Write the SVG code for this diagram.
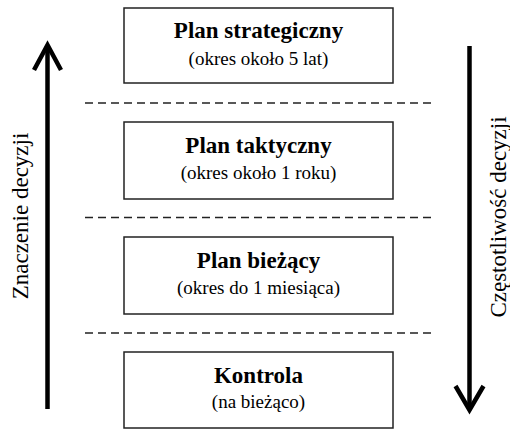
<svg xmlns="http://www.w3.org/2000/svg" width="510" height="430" viewBox="0 0 510 430">
<style>
.box{fill:#fff;stroke:#222;stroke-width:1.5}
.t{font-size:23px;font-weight:bold}
.s{font-size:19px}
.side{font-size:23px}
.dash{stroke:#222;stroke-width:1.3;stroke-dasharray:8 5;fill:none}
.shaft{stroke:#000;stroke-width:4.5;fill:none}
.head{stroke:#000;stroke-width:4.5;fill:none;stroke-linejoin:miter}
</style>
<rect width="510" height="430" fill="#fff"/>
<g id="separators">
<line class="dash" x1="85" y1="103" x2="432" y2="103"/>
<line class="dash" x1="85" y1="217.5" x2="432" y2="217.5"/>
<line class="dash" x1="85" y1="333" x2="432" y2="333"/>
</g>
<g font-family="Liberation Serif, Times New Roman, serif" text-anchor="middle" fill="#000">
<g id="node-strategic">
<rect class="box" x="124" y="8" width="269" height="75"/>
<text class="t" x="258.5" y="38">Plan strategiczny</text>
<text class="s" x="258.5" y="65">(okres około 5 lat)</text>
</g>
<g id="node-tactical">
<rect class="box" x="124" y="122" width="269" height="77"/>
<text class="t" x="258.5" y="153">Plan taktyczny</text>
<text class="s" x="258.5" y="179">(okres około 1 roku)</text>
</g>
<g id="node-current">
<rect class="box" x="124" y="237" width="269" height="77"/>
<text class="t" x="258.5" y="268">Plan bieżący</text>
<text class="s" x="258.5" y="294">(okres do 1 miesiąca)</text>
</g>
<g id="node-control">
<rect class="box" x="124" y="352" width="269" height="76"/>
<text class="t" x="258.5" y="383">Kontrola</text>
<text class="s" x="258.5" y="408">(na bieżąco)</text>
</g>
<text class="side" transform="translate(28,216) rotate(-90)">Znaczenie decyzji</text>
<text class="side" transform="translate(506,217) rotate(-90)">Częstotliwość decyzji</text>
</g>
<g id="connectors">
<g id="arrow-importance">
<line class="shaft" x1="47.5" y1="409" x2="47.5" y2="45"/>
<polyline class="head" points="34,70 47.5,45 61,70"/>
</g>
<g id="arrow-frequency">
<line class="shaft" x1="469.5" y1="46" x2="469.5" y2="409"/>
<polyline class="head" points="455.5,386 469.5,410 483.5,386"/>
</g>
</g>
</svg>
